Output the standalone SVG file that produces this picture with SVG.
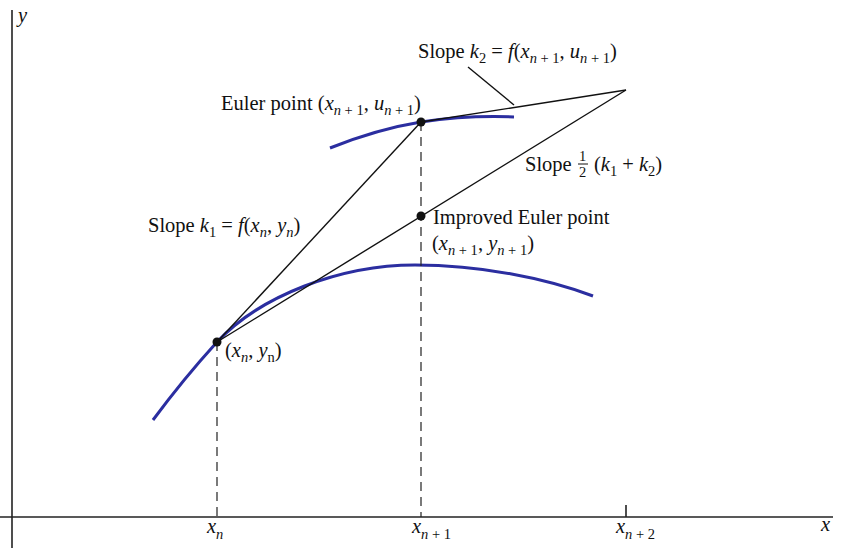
<svg xmlns="http://www.w3.org/2000/svg" width="867" height="559" viewBox="0 0 867 559">
<style>
text{font-family:"Liberation Serif","Times New Roman",serif;font-size:20.5px;fill:#111}
.i{font-style:italic}
.s{font-size:14.5px}
.ax{stroke:#222;stroke-width:1.6;fill:none}
.ln{stroke:#111;stroke-width:1.4;fill:none}
.ds{stroke:#222;stroke-width:1.2;stroke-dasharray:9,6;fill:none}
.cv{stroke:#2b2ea0;stroke-width:3;fill:none}
.pt{fill:#111}
</style>
<rect width="867" height="559" fill="#fff"/>
<g id="axes">
<line class="ax" x1="12" y1="10" x2="12" y2="548"/>
<line class="ax" x1="0" y1="517" x2="833" y2="517"/>
<line class="ax" x1="626" y1="505" x2="626" y2="517"/>
<text class="i" x="18" y="22">y</text>
<text class="i" x="821" y="531">x</text>
<text x="207" y="533"><tspan class="i">x</tspan><tspan class="i s" dy="6">n</tspan></text>
<text x="412" y="533"><tspan class="i">x</tspan><tspan class="s" dy="6"><tspan class="i">n</tspan> + 1</tspan></text>
<text x="616" y="533"><tspan class="i">x</tspan><tspan class="s" dy="6"><tspan class="i">n</tspan> + 2</tspan></text>
</g>
<g id="curves">
<path class="cv" d="M153,420 C173,393 197,364 217,342 C260,296 340,265 415,265 C480,265 545,278 593,296"/>
<path class="cv" d="M330,148 C360,136 390,127 421,122 C455,117 490,116 514,117"/>
</g>
<g id="connectors">
<line class="ds" x1="217" y1="342" x2="217" y2="517"/>
<line class="ds" x1="421" y1="122" x2="421" y2="517"/>
<line class="ln" x1="217" y1="342" x2="421" y2="122"/>
<line class="ln" x1="421" y1="122" x2="626" y2="90"/>
<line class="ln" x1="217" y1="342" x2="626" y2="90"/>
<line class="ln" x1="468" y1="67" x2="514" y2="105"/>
</g>
<g id="point-n">
<circle class="pt" cx="217" cy="342" r="4.5"/>
<text x="225" y="357">(<tspan class="i">x</tspan><tspan class="i s" dy="5">n</tspan><tspan dy="-5">, </tspan><tspan class="i">y</tspan><tspan class="s" dy="5">n</tspan><tspan dy="-5">)</tspan></text>
</g>
<g id="euler-point">
<circle class="pt" cx="421" cy="122" r="4.5"/>
<text x="221" y="110">Euler point (<tspan class="i">x</tspan><tspan class="s" dy="5"><tspan class="i">n</tspan> + 1</tspan><tspan dy="-5">, </tspan><tspan class="i">u</tspan><tspan class="s" dy="5"><tspan class="i">n</tspan> + 1</tspan><tspan dy="-5">)</tspan></text>
</g>
<g id="improved-euler-point">
<circle class="pt" cx="421" cy="216" r="4.5"/>
<text x="433" y="224">Improved Euler point</text>
<text x="432" y="250">(<tspan class="i">x</tspan><tspan class="s" dy="5"><tspan class="i">n</tspan> + 1</tspan><tspan dy="-5">, </tspan><tspan class="i">y</tspan><tspan class="s" dy="5"><tspan class="i">n</tspan> + 1</tspan><tspan dy="-5">)</tspan></text>
</g>
<g id="slope-k2">
<text x="418" y="58">Slope <tspan class="i">k</tspan><tspan class="s" dy="5">2</tspan><tspan dy="-5"> = </tspan><tspan class="i">f</tspan>(<tspan class="i">x</tspan><tspan class="s" dy="5"><tspan class="i">n</tspan> + 1</tspan><tspan dy="-5">, </tspan><tspan class="i">u</tspan><tspan class="s" dy="5"><tspan class="i">n</tspan> + 1</tspan><tspan dy="-5">)</tspan></text>
</g>
<g id="slope-k1">
<text x="148" y="232">Slope <tspan class="i">k</tspan><tspan class="s" dy="5">1</tspan><tspan dy="-5"> = </tspan><tspan class="i">f</tspan>(<tspan class="i">x</tspan><tspan class="i s" dy="5">n</tspan><tspan dy="-5">, </tspan><tspan class="i">y</tspan><tspan class="i s" dy="5">n</tspan><tspan dy="-5">)</tspan></text>
</g>
<g id="slope-avg">
<text x="525" y="171">Slope</text>
<text class="s" x="579" y="161">1</text>
<line x1="578" y1="164" x2="588" y2="164" stroke="#111" stroke-width="1"/>
<text class="s" x="579" y="177">2</text>
<text x="594" y="171">(<tspan class="i">k</tspan><tspan class="s" dy="5">1</tspan><tspan dy="-5"> + </tspan><tspan class="i">k</tspan><tspan class="s" dy="5">2</tspan><tspan dy="-5">)</tspan></text>
</g>
</svg>
